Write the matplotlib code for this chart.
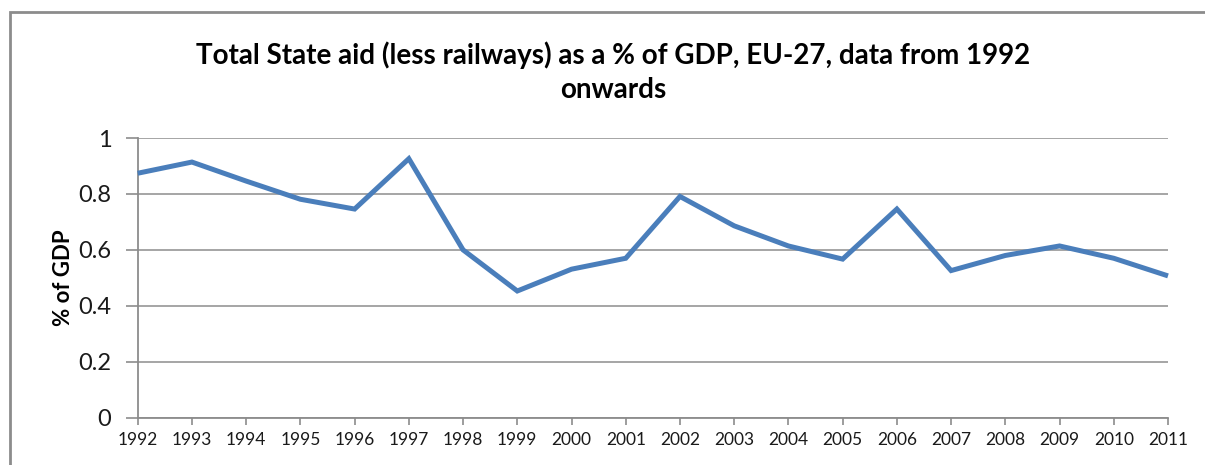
import matplotlib
matplotlib.use("Agg")
import matplotlib.pyplot as plt
from matplotlib.patches import Rectangle

years = list(range(1992, 2012))
aid_pct_gdp = [0.874, 0.914, 0.846, 0.781, 0.746, 0.926, 0.600, 0.453, 0.531, 0.570,
               0.791, 0.686, 0.614, 0.567, 0.746, 0.526, 0.580, 0.614, 0.570, 0.507]
y_ticks = [0, 0.2, 0.4, 0.6, 0.8, 1.0]
y_tick_labels = ["0", "0.2", "0.4", "0.6", "0.8", "1"]
title = "Total State aid (less railways) as a % of GDP, EU-27, data from 1992\nonwards"
y_label = "% of GDP"

plt.rcParams['font.family'] = ['Lato', 'DejaVu Sans']

W, H = 1205, 465
fig = plt.figure(figsize=(W / 100, H / 100), dpi=100)
fig.patch.set_facecolor("white")

# outer chart frame (extends past right/bottom edges)
frame = Rectangle((10 / W, -0.05), 1.2, (H - 12) / H + 0.05, transform=fig.transFigure,
                  fill=False, edgecolor="#8c8c8c", linewidth=2.0, zorder=0)
fig.patches.append(frame)

ax = fig.add_axes([137.7 / W, 47.3 / H, (1168 - 137.7) / W, (417.7 - 138) / H])
ax.plot(years, aid_pct_gdp, color="#4a7ebb", linewidth=3.6, solid_joinstyle="miter",
        solid_capstyle="butt", zorder=3, clip_on=False)

ax.set_xlim(1992, 2011)
ax.set_ylim(0, 1)
ax.set_xticks(years)
ax.set_xticklabels([str(y) for y in years], fontsize=12.5, color="#1a1a1a")
ax.set_yticks(y_ticks)
ax.set_yticklabels(y_tick_labels, fontsize=17, color="#1a1a1a")

ax.grid(axis="y", color="#9e9e9e", linewidth=1.3)
ax.set_axisbelow(True)
for s in ["top", "right"]:
    ax.spines[s].set_visible(False)
for s in ["left", "bottom"]:
    ax.spines[s].set_color("#8c8c8c")
    ax.spines[s].set_linewidth(1.3)

ax.tick_params(axis="x", direction="out", length=5, width=1.2, color="#8c8c8c", pad=5)
ax.tick_params(axis="y", direction="out", length=9, width=1.2, color="#8c8c8c", pad=10)

ax.set_ylabel(y_label, fontsize=16, fontweight="bold", labelpad=3)

fig.text(613 / W, 1 - 72 / H, title, ha="center", va="center", fontsize=20,
         fontweight="bold", linespacing=1.4)

fig.savefig("out.png", dpi=100, facecolor="white")
